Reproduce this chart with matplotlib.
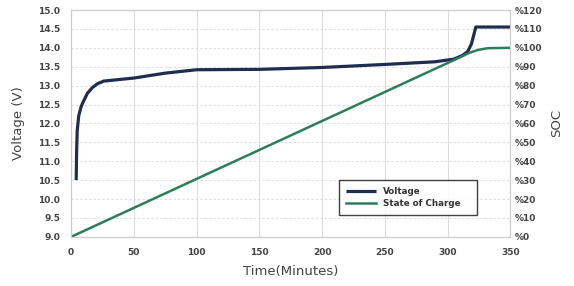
from matplotlib import pyplot as plt

# charge curve
time_v = [4, 4.3, 4.8, 6, 8, 10, 13, 17, 21, 26, 35, 50, 75, 100, 150, 200,
          250, 290, 305, 312, 316, 319, 321, 322.5, 350]
voltage = [10.5, 11.2, 11.8, 12.2, 12.45, 12.6, 12.8, 12.95, 13.05, 13.12,
           13.15, 13.2, 13.33, 13.42, 13.43, 13.48, 13.56, 13.63, 13.7, 13.8,
           13.9, 14.1, 14.35, 14.55, 14.55]

time_soc = [0, 310, 318, 325, 332, 350]
soc = [0, 95, 97.5, 99, 99.8, 100]

v_ticks = [9.0, 9.5, 10.0, 10.5, 11.0, 11.5, 12.0, 12.5, 13.0, 13.5, 14.0, 14.5, 15.0]
soc_ticks = list(range(0, 121, 10))
x_ticks = [0, 50, 100, 150, 200, 250, 300, 350]

tick_color = '#444444'
grid_color = '#dddddd'

fig = plt.figure(figsize=(5.74, 2.86), dpi=100)
ax = fig.add_axes([0.124, 0.172, 0.765, 0.793])
ax2 = ax.twinx()

line_v, = ax.plot(time_v, voltage, color='#1f2d50', lw=2.3, label='Voltage',
                  solid_capstyle='butt', zorder=3)
line_s, = ax2.plot(time_soc, soc, color='#2e7d5a', lw=1.8, label='State of Charge',
                   zorder=2)

ax.set_xlim(0, 350)
ax.set_ylim(9.0, 15.0)
ax2.set_ylim(0, 120)

ax.set_xticks(x_ticks)
ax.set_yticks(v_ticks)
ax.set_yticklabels([f'{t:.1f}' for t in v_ticks])
ax2.set_yticks(soc_ticks)
ax2.set_yticklabels([f'%{t}' for t in soc_ticks])

for a in (ax, ax2):
    a.tick_params(length=0, labelsize=6.5, colors=tick_color)
    for s in a.spines.values():
        s.set_color('#cccccc')
        s.set_linewidth(0.8)
ax.tick_params(axis='x', pad=8)
ax.tick_params(axis='y', pad=8)
ax2.tick_params(axis='y', pad=3)
for lab in ax.get_xticklabels() + ax.get_yticklabels() + ax2.get_yticklabels():
    lab.set_fontweight('bold')

ax.grid(True, axis='x', color=grid_color, lw=0.8, ls='-')
ax.grid(True, axis='y', color=grid_color, lw=0.8, ls=(0, (2, 2)))
ax.set_axisbelow(True)

ax.set_xlabel('Time(Minutes)', fontsize=9.5, color='#444444', labelpad=6)
ax.set_ylabel('Voltage (V)', fontsize=9.5, color='#444444', labelpad=9)
ax2.set_ylabel('SOC', fontsize=9.5, color='#444444', labelpad=6)

leg = ax2.legend([line_v, line_s], ['Voltage', 'State of Charge'],
                 loc='lower left', bbox_to_anchor=(0.6, 0.075, 0.335, 0.18),
                 mode='expand', frameon=True, fancybox=False,
                 handlelength=3.4, borderpad=0.8, labelspacing=0.35,
                 prop={'weight': 'bold', 'size': 6.3})
leg.get_frame().set_edgecolor('#111111')
leg.get_frame().set_linewidth(1.0)
for t in leg.get_texts():
    t.set_color('#333333')

fig.savefig('out.png', dpi=100)
